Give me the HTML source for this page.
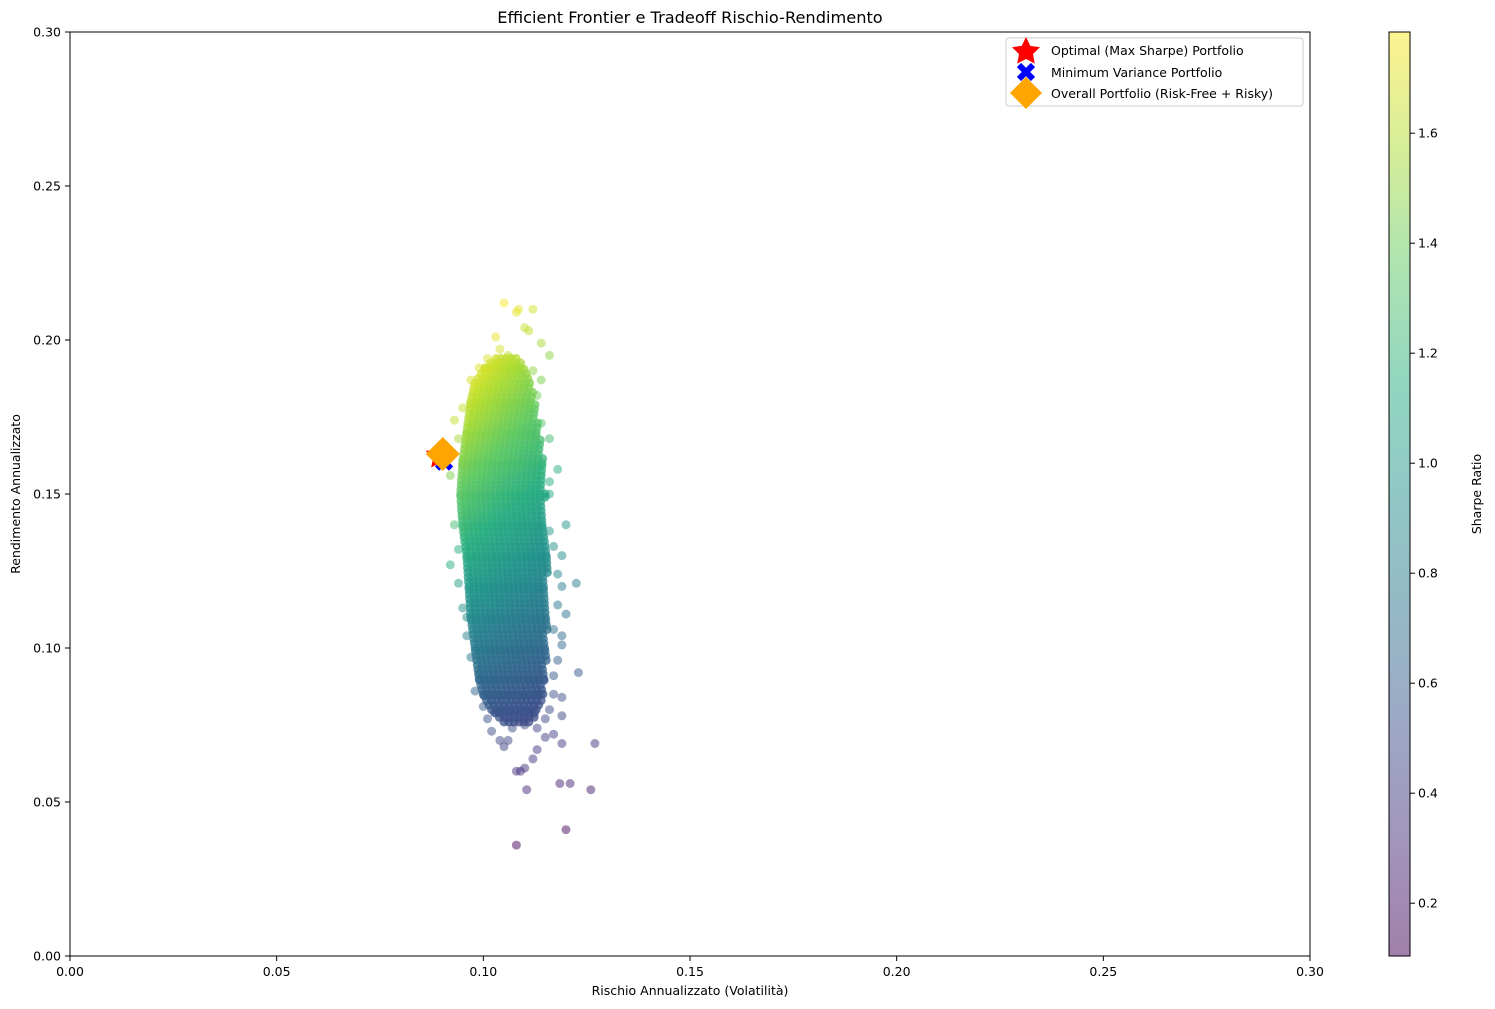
<!DOCTYPE html>
<html><head><meta charset="utf-8"><style>
html,body{margin:0;padding:0;background:#fff;}
svg{display:block;font-family:"DejaVu Sans","Liberation Sans",sans-serif;}
</style></head><body>
<svg id="chart" width="1495" height="1009" viewBox="0 0 1495 1009" xmlns="http://www.w3.org/2000/svg">
<defs>
<linearGradient id="cbgrad" x1="0" y1="1" x2="0" y2="0">
<stop offset="0" stop-color="#440154"/><stop offset="0.125" stop-color="#472d7b"/><stop offset="0.25" stop-color="#3b528b"/><stop offset="0.375" stop-color="#2c728e"/><stop offset="0.5" stop-color="#21918c"/><stop offset="0.625" stop-color="#28ae80"/><stop offset="0.75" stop-color="#5ec962"/><stop offset="0.875" stop-color="#addc30"/><stop offset="1" stop-color="#fde725"/>
</linearGradient>
<clipPath id="plotclip"><rect x="70" y="32" width="1240" height="924"/></clipPath>
</defs>
<text x="690" y="23" text-anchor="middle" font-size="16.2">Efficient Frontier e Tradeoff Rischio-Rendimento</text>
<g id="points" clip-path="url(#plotclip)"></g>
<g id="axes"></g>
<rect x="70" y="32" width="1240" height="924" fill="none" stroke="#000" stroke-width="1"/>
<text x="690" y="995" text-anchor="middle" font-size="12.5">Rischio Annualizzato (Volatilità)</text>
<text transform="translate(20,494) rotate(-90)" text-anchor="middle" font-size="12.5">Rendimento Annualizzato</text>
<g id="markers"></g>
<g>
<rect x="1006" y="38" width="297" height="68" rx="3" fill="#fff" fill-opacity="0.8" stroke="#ccc"/>
<polygon points="1026,37 1030.3,45.9 1040,47.2 1033,54 1034.8,63.6 1026,59 1017.2,63.6 1019,54 1012,47.2 1021.7,45.9" fill="#f00"/>
<text x="1051" y="55" font-size="12.5">Optimal (Max Sharpe) Portfolio</text>
<path d="M1019,65 L1033,79 M1033,65 L1019,79" stroke="#00f" stroke-width="6"/>
<text x="1051" y="77" font-size="12.5">Minimum Variance Portfolio</text>
<polygon points="1026,77 1042,93 1026,109 1010,93" fill="#ffa500"/>
<text x="1051" y="98" font-size="12.5">Overall Portfolio (Risk-Free + Risky)</text>
</g>
<g>
<rect x="1389" y="32" width="21" height="924" fill="#fff"/>
<rect x="1389" y="32" width="21" height="924" fill="url(#cbgrad)" fill-opacity="0.5"/>
<rect x="1389" y="32" width="21" height="924" fill="none" stroke="#000"/>
<g id="cbticks"></g>
<text transform="translate(1481,494) rotate(-90)" text-anchor="middle" font-size="12.5">Sharpe Ratio</text>
</g>
</svg>
<script>
// ---- data ----
const xTicks = [0, 0.05, 0.10, 0.15, 0.20, 0.25, 0.30];
const xTickLabels = ["0.00","0.05","0.10","0.15","0.20","0.25","0.30"];
const yTicks = [0, 0.05, 0.10, 0.15, 0.20, 0.25, 0.30];
const yTickLabels = ["0.00","0.05","0.10","0.15","0.20","0.25","0.30"];
const cbTicks = [0.2, 0.4, 0.6, 0.8, 1.0, 1.2, 1.4, 1.6];
const cbTickLabels = ["0.2","0.4","0.6","0.8","1.0","1.2","1.4","1.6"];
const riskFree = 0.023;
// dense core density bands: return level, min vol, max vol
const bandRet = [0.076, 0.080, 0.085, 0.090, 0.100, 0.110, 0.120, 0.130, 0.140, 0.150, 0.160, 0.170, 0.180, 0.186, 0.191, 0.195];
const bandMin = [0.105, 0.1020, 0.1000, 0.0990, 0.0980, 0.0970, 0.0965, 0.0960, 0.0950, 0.0945, 0.0950, 0.0960, 0.0970, 0.0980, 0.1005, 0.1040];
const bandMax = [0.112, 0.1135, 0.1145, 0.1150, 0.1155, 0.1155, 0.1155, 0.1155, 0.1150, 0.1150, 0.1145, 0.1135, 0.1125, 0.1115, 0.1100, 0.1080];
// outlying portfolios
const outVol = [0.108,0.120,0.1105,0.1185,0.121,0.126,0.127,0.108,0.109,0.110,0.119,0.123,0.1225,0.120,0.120,0.118,0.105,0.108,0.1085,0.112,0.110,0.111,0.103,0.114,0.116,0.104,0.101,0.106,0.093,0.094,0.092,0.092,0.094,0.096,0.097,0.098,0.100,0.101,0.102,0.104,0.105,0.106,0.112,0.113,0.115,0.117,0.119,0.119,0.117,0.118,0.119,0.119,0.117,0.118,0.119,0.118,0.119,0.117,0.116,0.116,0.116,0.116,0.114,0.113,0.114,0.112,0.097,0.099,0.095,0.095,0.093,0.094,0.095,0.096,0.099,0.103,0.107,0.110,0.113,0.115,0.116,0.117,0.114];
const outRet = [0.036,0.041,0.054,0.056,0.056,0.054,0.069,0.060,0.060,0.061,0.069,0.092,0.121,0.111,0.140,0.158,0.212,0.209,0.210,0.210,0.204,0.203,0.201,0.199,0.195,0.197,0.194,0.195,0.174,0.168,0.156,0.127,0.121,0.110,0.097,0.086,0.081,0.077,0.073,0.070,0.068,0.070,0.064,0.067,0.071,0.072,0.078,0.084,0.091,0.096,0.101,0.104,0.106,0.114,0.120,0.124,0.130,0.133,0.138,0.150,0.154,0.168,0.173,0.182,0.187,0.190,0.187,0.191,0.178,0.161,0.140,0.132,0.113,0.104,0.092,0.079,0.074,0.075,0.074,0.077,0.080,0.085,0.085];
// special portfolios
const optVol = 0.0895, optRet = 0.1625;
const minVol = 0.0905, minRet = 0.1605;
const ovrVol = 0.0902, ovrRet = 0.1630;

// ---- scales ----
const X0=70, X1=1310, Y0=956, Y1=32;
const xs = v => X0 + (v-0)/(0.3-0)*(X1-X0);
const ys = v => Y0 - (v-0)/(0.3-0)*(Y0-Y1);
const CB0=0.104, CB1=1.784;
const cbs = v => 956 - (v-CB0)/(CB1-CB0)*924;
const NS="http://www.w3.org/2000/svg";
const vir=[[68,1,84],[71,45,123],[59,82,139],[44,114,142],[33,145,140],[40,174,128],[94,201,98],[173,220,48],[253,231,37]];
function viridis(t){t=Math.max(0,Math.min(1,t));const p=t*8,i=Math.min(7,Math.floor(p)),f=p-i;const a=vir[i],b=vir[i+1];return `rgb(${a.map((c,k)=>Math.round(c+(b[k]-c)*f)).join(',')})`;}
const colorOf=(v,r)=>viridis(((r-riskFree)/v-CB0)/(CB1-CB0));

const gp=document.getElementById('points');
function dot(v,r){
  const c=document.createElementNS(NS,'circle');
  
  
  c.setAttribute('cx',xs(v).toFixed(1));c.setAttribute('cy',ys(r).toFixed(1));c.setAttribute('r',4.5);
  c.setAttribute('fill',colorOf(v,r));c.setAttribute('fill-opacity',0.5);
  gp.appendChild(c);
}
for(let i=0;i<outVol.length;i++) dot(outVol[i],outRet[i]);
// core
for(let b=0;b<bandRet.length-1;b++){
  for(let r=bandRet[b]; r<bandRet[b+1]-1e-9; r+=0.0015){
    const f=(r-bandRet[b])/(bandRet[b+1]-bandRet[b]);
    const lo=bandMin[b]+(bandMin[b+1]-bandMin[b])*f, hi=bandMax[b]+(bandMax[b+1]-bandMax[b])*f;
    for(let v=lo; v<=hi+1e-9; v+=0.0012){ dot(v,r); dot(v,r); }
  }
}

// axes
const ga=document.getElementById('axes');
function add(parent,tag,attrs,text){const e=document.createElementNS(NS,tag);for(const k in attrs)e.setAttribute(k,attrs[k]);if(text!==undefined)e.textContent=text;parent.appendChild(e);return e;}
xTicks.forEach((t,i)=>{
  const l=add(ga,'line',{x1:xs(t),x2:xs(t),y1:956,y2:961,stroke:'#000'});
  
  
  const tx=add(ga,'text',{x:xs(t),y:976,'text-anchor':'middle','font-size':12.5},xTickLabels[i]);
  
  
});
yTicks.forEach((t,i)=>{
  const l=add(ga,'line',{x1:65,x2:70,y1:ys(t),y2:ys(t),stroke:'#000'});
  
  
  const tx=add(ga,'text',{x:61,y:ys(t)+4.5,'text-anchor':'end','font-size':12.5},yTickLabels[i]);
  
  
});
const gc=document.getElementById('cbticks');
cbTicks.forEach((t,i)=>{
  const l=add(gc,'line',{x1:1410,x2:1415,y1:cbs(t),y2:cbs(t),stroke:'#000'});
  
  
  const tx=add(gc,'text',{x:1418,y:cbs(t)+4.5,'font-size':12.5},cbTickLabels[i]);
  
  
});

// special markers
const gm=document.getElementById('markers');
{
  const cx=xs(optVol), cy=ys(optRet); let pts=[];
  for(let k=0;k<10;k++){const a=-Math.PI/2+k*Math.PI/5, rr=k%2?7:15; pts.push((cx+rr*Math.cos(a)).toFixed(1)+','+(cy+rr*Math.sin(a)).toFixed(1));}
  const s=add(gm,'polygon',{points:pts.join(' '),fill:'#f00'});
  
  
}
{
  const cx=xs(minVol), cy=ys(minRet);
  const s=add(gm,'path',{d:`M${cx-7},${cy-7} L${cx+7},${cy+7} M${cx+7},${cy-7} L${cx-7},${cy+7}`,stroke:'#00f','stroke-width':6});
  
  
}
{
  const cx=xs(ovrVol), cy=ys(ovrRet);
  const s=add(gm,'polygon',{points:`${cx},${cy-17} ${cx+17},${cy} ${cx},${cy+17} ${cx-17},${cy}`,fill:'#ffa500'});
  
  
}
</script>
</body></html>
